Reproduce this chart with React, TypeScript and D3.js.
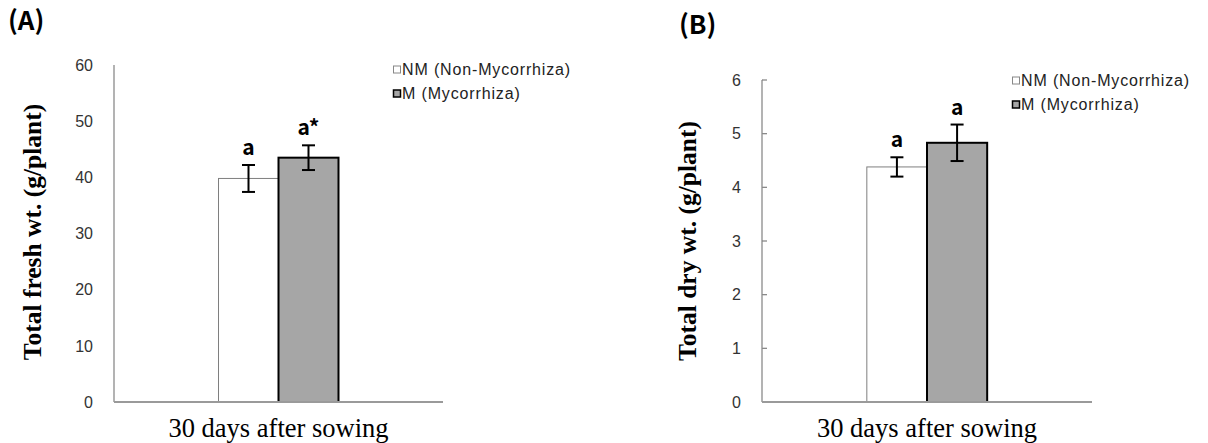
import React from "react";
import * as d3 from "d3";

const categories = ["30 days after sowing"];
const seriesNames = ["NM (Non-Mycorrhiza)", "M (Mycorrhiza)"];

const freshMeans = [39.8, 43.5];
const freshErrors = [2.4, 2.2];
const freshLetters = ["a", "a*"];
const freshTicks = [0, 10, 20, 30, 40, 50, 60];

const dryMeans = [4.38, 4.83];
const dryErrors = [0.18, 0.34];
const dryLetters = ["a", "a"];
const dryTicks = [0, 1, 2, 3, 4, 5, 6];

type PanelProps = {
  title: string;
  titleX: number;
  titleY: number;
  yLabel: string;
  yLabelX: number;
  yLabelY: number;
  means: number[];
  errors: number[];
  letters: string[];
  ticks: number[];
  yMax: number;
  x0: number;
  x1: number;
  yTop: number;
  yBottom: number;
  showTicks: boolean;
  legendX: number;
  legendY: number;
};

const FILLS = ["#ffffff", "#a6a6a6"];
const STROKES = ["#7f7f7f", "#000000"];
const STROKE_W = [1, 2];

function Panel(p: PanelProps) {
  const y = d3.scaleLinear().domain([0, p.yMax]).range([p.yBottom, p.yTop]);
  const x = d3.scaleBand<string>().domain(categories).range([p.x0, p.x1]).paddingInner(0).paddingOuter(0.871);
  const inner = d3.scaleBand<string>().domain(seriesNames).range([0, x.bandwidth()]).padding(0);
  const cat = categories[0];
  const sansTick = "'Liberation Sans', Arial, sans-serif";
  return (
    <g>
      <text x={p.titleX} y={p.titleY} fontFamily="'Noto Sans CJK KR', 'Noto Sans', sans-serif" fontWeight="bold" fontSize={26} fill="#000">
        {p.title}
      </text>
      {/* y axis */}
      <line x1={p.x0} x2={p.x0} y1={p.yTop} y2={p.yBottom} stroke="#8a8a8a" strokeWidth={1.3} />
      {p.ticks.map((t) => (
        <g key={t}>
          {p.showTicks && <line x1={p.x0} x2={p.x0 + 5} y1={y(t)} y2={y(t)} stroke="#8a8a8a" strokeWidth={1.3} />}
          <text x={p.x0 - 21} y={y(t)} dy="0.36em" textAnchor="end" fontFamily={sansTick} fontSize={16} fill="#333">
            {t}
          </text>
        </g>
      ))}
      {/* bars */}
      {seriesNames.map((s, i) => {
        const bx = (x(cat) as number) + (inner(s) as number);
        const bw = inner.bandwidth();
        const cx = bx + bw / 2;
        const top = y(p.means[i] + p.errors[i]);
        const bot = y(p.means[i] - p.errors[i]);
        return (
          <g key={s}>
            <rect x={bx} y={y(p.means[i])} width={bw} height={y(0) - y(p.means[i])} fill={FILLS[i]} stroke={STROKES[i]} strokeWidth={STROKE_W[i]} />
            <line x1={cx} x2={cx} y1={top} y2={bot} stroke="#000" strokeWidth={2} />
            <line x1={cx - 6.5} x2={cx + 6.5} y1={top} y2={top} stroke="#000" strokeWidth={2} />
            <line x1={cx - 6.5} x2={cx + 6.5} y1={bot} y2={bot} stroke="#000" strokeWidth={2} />
            <text x={cx} y={top - 10} textAnchor="middle" fontFamily="'Noto Sans CJK KR', 'Noto Sans', sans-serif" fontWeight="bold" fontSize={21} fill="#000">
              {p.letters[i]}
            </text>
          </g>
        );
      })}
      {/* x axis */}
      <line x1={p.x0} x2={p.x1} y1={p.yBottom} y2={p.yBottom} stroke="#9a9a9a" strokeWidth={2} />
      <text x={(x(cat) as number) + x.bandwidth() / 2} y={437} textAnchor="middle" fontFamily="'Liberation Serif', 'Times New Roman', serif" fontSize={26.5} fill="#000">
        {cat}
      </text>
      <text
        transform={`translate(${p.yLabelX},${p.yLabelY}) rotate(-90)`}
        textAnchor="middle"
        dy="0.35em"
        fontFamily="'Liberation Serif', 'Times New Roman', serif"
        fontWeight="bold"
        fontSize={25.5}
        fill="#000"
      >
        {p.yLabel}
      </text>
      {/* legend */}
      {seriesNames.map((s, i) => (
        <g key={s} transform={`translate(${p.legendX},${p.legendY + i * 24})`}>
          <rect x={0.5} y={-9} width={7} height={7} fill={FILLS[i]} stroke={i === 0 ? "#888" : "#000"} strokeWidth={i === 0 ? 1 : 1.5} />
          <text x={9} y={0} fontFamily={sansTick} fontSize={16} letterSpacing={0.85} fill="#222">
            {s}
          </text>
        </g>
      ))}
    </g>
  );
}

export default function App() {
  return (
    <svg width={1208} height={443} style={{ position: "absolute", left: 0, top: 0, background: "#fff" }}>
      <rect width={1208} height={443} fill="#fff" />
      <Panel
        title="(A)"
        titleX={8}
        titleY={30}
        yLabel="Total fresh wt. (g/plant)"
        yLabelX={32}
        yLabelY={232}
        means={freshMeans}
        errors={freshErrors}
        letters={freshLetters}
        ticks={freshTicks}
        yMax={60}
        x0={114}
        x1={443}
        yTop={65}
        yBottom={402}
        showTicks={false}
        legendX={393}
        legendY={75}
      />
      <Panel
        title="(B)"
        titleX={679}
        titleY={34}
        yLabel="Total dry wt. (g/plant)"
        yLabelX={687}
        yLabelY={241}
        means={dryMeans}
        errors={dryErrors}
        letters={dryLetters}
        ticks={dryTicks}
        yMax={6}
        x0={762}
        x1={1092}
        yTop={80}
        yBottom={402}
        showTicks={true}
        legendX={1012}
        legendY={86}
      />
    </svg>
  );
}
